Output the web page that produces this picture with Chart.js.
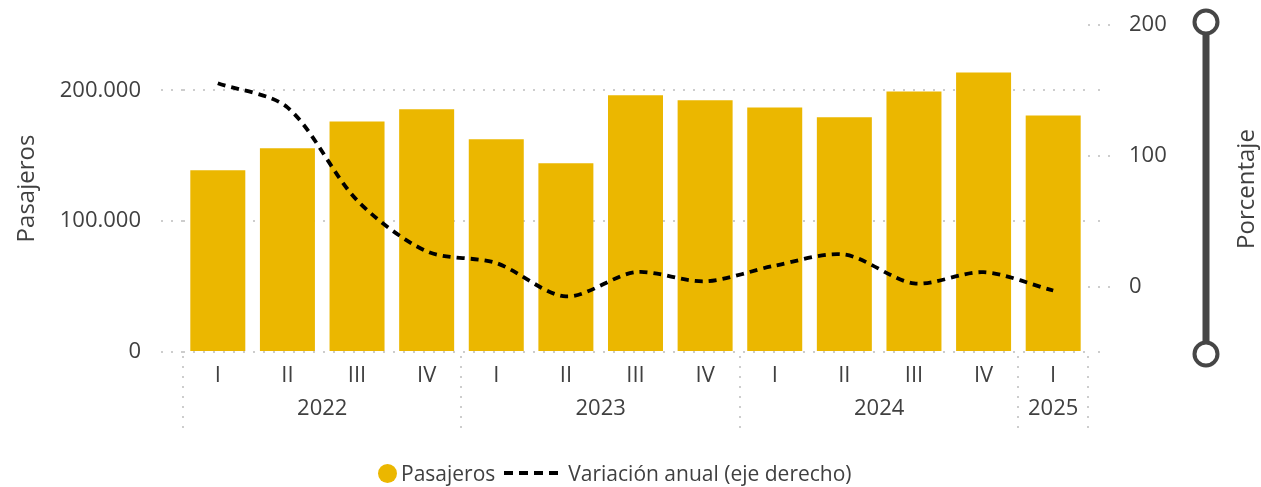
<!DOCTYPE html>
<html>
<head>
<meta charset="utf-8">
<script src="https://cdn.jsdelivr.net/npm/chart.js@4.4.1/dist/chart.umd.min.js"></script>
<style>
html,body{margin:0;padding:0;background:#fff;}
#wrap{position:relative;width:1261px;height:487px;}
#legend{position:absolute;left:378px;top:459px;height:28px;display:flex;align-items:center;
  font-family:"Open Sans","Noto Sans",sans-serif;font-size:21px;color:#404040;white-space:nowrap;}
#legend .dot{display:inline-block;width:19px;height:19px;border-radius:50%;margin-right:4px;}
#legend .item{display:flex;align-items:center;}
#legend svg{margin:0 10px 0 9px;}
</style>
</head>
<body>
<div id="wrap">
<canvas id="c" width="1261" height="487"></canvas>
<div id="legend"></div>
</div>
<script>
// ---- data ----
const quarters = ['I','II','III','IV','I','II','III','IV','I','II','III','IV','I'];
const years = ['2022','2023','2024','2025'];
const quartersPerYear = [4,4,4,1];
const pasajeros = [139000,155700,176300,185500,162600,144300,196200,192400,187000,179400,199200,213700,180900];
const variacion = [155.5,137,66,27,18,-7.5,11,4,16,24.5,2.5,11,-3];
const leftTicks = [0,100000,200000];
const rightTicks = [0,100,200];
const leftTitle = 'Pasajeros';
const rightTitle = 'Porcentaje';
const barLabel = 'Pasajeros';
const lineLabel = 'Variación anual (eje derecho)';

// ---- style ----
const FONT = '"Open Sans","Noto Sans",sans-serif';
const TEXT = '#404040';
const GRID = '#cdcdcd';
const BAR = '#EBB700';

const yearCenters = [];
const bounds = [-0.5];
(function(){ let s = 0; quartersPerYear.forEach(n => { yearCenters.push(s + (n-1)/2); s += n; bounds.push(s - 0.5); }); })();

function fmt(v){ return String(v).replace(/\B(?=(\d{3})+(?!\d))/g, '.'); }
function noPad(s){ s.paddingTop = 0; s.paddingBottom = 0; }

const decor = {
  id: 'decor',
  afterDraw(chart){
    const ctx = chart.ctx, a = chart.chartArea;
    const x2 = chart.scales.x2, y = chart.scales.y;
    ctx.save();
    ctx.strokeStyle = GRID; ctx.lineWidth = 2; ctx.setLineDash([2,8]);
    bounds.forEach(v => {
      const px = Math.round(x2.getPixelForValue(v));
      ctx.beginPath(); ctx.moveTo(px, a.bottom + 4); ctx.lineTo(px, a.bottom + 80); ctx.stroke();
    });
    y.ticks.forEach(t => {
      const py = Math.round(y.getPixelForValue(t.value));
      ctx.beginPath(); ctx.moveTo(a.right + 10, py); ctx.lineTo(a.right + 16, py); ctx.stroke();
    });
    ctx.setLineDash([]);
    // zoom slider decoration
    const sx = 1206, sy1 = 22, sy2 = 354;
    ctx.strokeStyle = '#464646';
    ctx.lineWidth = 7;
    ctx.beginPath(); ctx.moveTo(sx, sy1); ctx.lineTo(sx, sy2); ctx.stroke();
    ctx.lineWidth = 4; ctx.fillStyle = '#fff';
    [sy1, sy2].forEach(cy => { ctx.beginPath(); ctx.arc(sx, cy, 11.5, 0, Math.PI*2); ctx.fill(); ctx.stroke(); });
    // right axis title (reads bottom-to-top)
    ctx.translate(1247, 189); ctx.rotate(-Math.PI/2);
    ctx.fillStyle = TEXT; ctx.font = '24px ' + FONT; ctx.textAlign = 'center'; ctx.textBaseline = 'middle';
    ctx.fillText(rightTitle, 0, 0);
    ctx.restore();
  }
};

const chart = new Chart(document.getElementById('c'), {
  type: 'bar',
  data: {
    labels: quarters,
    datasets: [
      { type:'line', label: lineLabel, data: variacion, yAxisID:'y1', xAxisID:'x',
        borderColor:'#000', borderWidth:3.8, borderDash:[8,6], pointRadius:0, tension:0.3, fill:false, order:0 },
      { type:'bar', label: barLabel, data: pasajeros, yAxisID:'y', xAxisID:'x',
        backgroundColor: BAR, barPercentage:0.79, categoryPercentage:1, order:1 }
    ]
  },
  options: {
    responsive:false, animation:false,
    layout:{ padding:{ top:25, bottom:47, left:0, right:0 } },
    plugins:{ legend:{ display:false }, tooltip:{ enabled:false } },
    scales:{
      x:{ type:'category', position:'bottom', weight:0, offset:true,
        grid:{ display:false, drawTicks:false }, border:{ display:false },
        ticks:{ color:TEXT, font:{ family:FONT, size:22 }, padding:11, autoSkip:false, maxRotation:0 },
        afterFit: s => { s.height = 40; } },
      x2:{ type:'linear', position:'bottom', weight:1, min:-0.5, max:12.5, offset:false, bounds:'data',
        afterBuildTicks: s => { s.ticks = yearCenters.map(v => ({ value:v })); },
        grid:{ display:false, drawTicks:false, offset:false }, border:{ display:false },
        ticks:{ color:TEXT, font:{ family:FONT, size:22 }, padding:4, autoSkip:false, maxRotation:0,
          callback:(v,i) => years[i] },
        afterFit: s => { s.height = 48; } },
      y:{ position:'left', min:0, max:250000,
        afterBuildTicks: s => { s.ticks = leftTicks.map(v => ({ value:v })); },
        afterFit: s => { s.width = 183; noPad(s); },
        grid:{ color:GRID, lineWidth:2, tickLength:22, drawTicks:true, tickBorderDash:[2,8] },
        border:{ display:false, dash:[2,8] },
        ticks:{ color:TEXT, font:{ family:FONT, size:22 }, padding:20, callback: v => fmt(v) },
        title:{ display:true, text:leftTitle, color:TEXT, font:{ family:FONT, size:24 }, padding:{ top:13, bottom:0 } } },
      y1:{ position:'right', min:-50, max:200,
        afterBuildTicks: s => { s.ticks = rightTicks.map(v => ({ value:v })); },
        afterFit: s => { s.width = 173; noPad(s); },
        grid:{ drawOnChartArea:false, color:GRID, lineWidth:2, tickLength:22, tickBorderDash:[2,8] },
        border:{ display:false },
        ticks:{ color:TEXT, font:{ family:FONT, size:22 }, padding:19 } }
    }
  },
  plugins:[decor]
});

// HTML legend built from the chart's datasets
(function(){
  const lg = document.getElementById('legend');
  const bar = chart.data.datasets.find(d => d.type === 'bar');
  const line = chart.data.datasets.find(d => d.type === 'line');
  const i1 = document.createElement('span'); i1.className = 'item';
  const dot = document.createElement('span'); dot.className = 'dot'; dot.style.background = bar.backgroundColor;
  i1.appendChild(dot); i1.appendChild(document.createTextNode(bar.label));
  const i2 = document.createElement('span'); i2.className = 'item';
  i2.innerHTML = '<svg width="54" height="6"><line x1="0" y1="3" x2="54" y2="3" stroke="#000" stroke-width="4" stroke-dasharray="9 6"/></svg>';
  i2.appendChild(document.createTextNode(line.label));
  lg.appendChild(i1); lg.appendChild(i2);
})();
</script>
</body>
</html>
